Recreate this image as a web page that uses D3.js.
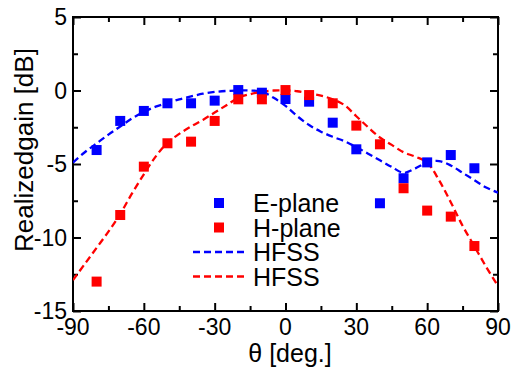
<!DOCTYPE html>
<html>
<head>
<meta charset="utf-8">
<script src="https://cdn.jsdelivr.net/npm/d3@7"></script>
<style>
  body { margin: 0; background: #fff; }
  text { font-family: "Liberation Sans", Arial, sans-serif; fill: #000; }
</style>
</head>
<body>
<svg id="Target" width="517" height="372"></svg>
<script>
// measured points, every 10 deg
const measAngles = [-80, -70, -60, -50, -40, -30, -20, -10, 0, 10, 20, 30, 40, 50, 60, 70, 80];
const ePlane = [-4.05, -2.07, -1.39, -0.87, -0.87, -0.69, 0.03, -0.15, -0.58, -0.76, -2.19, -4.0, -7.67, -5.97, -4.89, -4.39, -5.29];
const hPlane = [-13.0, -8.47, -5.18, -3.59, -3.48, -2.07, -0.6, -0.6, 0.03, -0.31, -0.87, -2.39, -3.66, -6.65, -8.17, -8.58, -10.58];

// simulated curves, every 5 deg
const simAngles = [-90, -85, -80, -75, -70, -65, -60, -55, -50, -45, -40, -35, -30, -25, -20, -15, -10, -5, 0,
                   5, 10, 15, 20, 25, 30, 35, 40, 45, 50, 55, 60, 65, 70, 75, 80, 85, 90];
const hfssE = [-4.9, -4.2, -3.6, -3.0, -2.45, -1.9, -1.45, -1.1, -0.85, -0.6, -0.4, -0.22, -0.1, -0.03, 0.0, 0.0, -0.08, -0.5, -1.05,
               -1.75, -2.35, -2.8, -3.15, -3.45, -3.85, -4.3, -4.75, -5.2, -5.6, -5.3, -4.9, -4.8, -5.1, -5.6, -6.1, -6.6, -6.95];
const hfssH = [-12.9, -11.8, -10.7, -9.6, -8.4, -7.0, -5.7, -4.5, -3.55, -2.95, -2.45, -2.0, -1.5, -1.0, -0.5, -0.25, -0.1, 0.0, 0.0,
               -0.05, -0.2, -0.35, -0.6, -1.0, -1.75, -2.5, -3.2, -3.7, -4.2, -4.5, -4.9, -6.1, -7.6, -9.2, -10.6, -12.0, -13.3];

const xMajor = [-90, -60, -30, 0, 30, 60, 90];
const xMinor = [-75, -45, -15, 15, 45, 75];
const yMajor = [5, 0, -5, -10, -15];
const yMinor = [2.5, -2.5, -7.5, -12.5];

const legendItems = [
    { label: "E-plane", color: "blue", kind: "square" },
    { label: "H-plane", color: "red", kind: "square" },
    { label: "HFSS", color: "blue", kind: "line" },
    { label: "HFSS", color: "red", kind: "line" }
];

const svg = d3.select("#Target");
const margin = { left: 73, right: 19, top: 17, bottom: 61 };
const W = 517 - margin.left - margin.right;
const H = 372 - margin.top - margin.bottom;

const x = d3.scaleLinear().domain([-90, 90]).range([0, W]);
const y = d3.scaleLinear().domain([-15, 5]).range([H, 0]);

const g = svg.append("g").attr("transform", `translate(${margin.left},${margin.top})`);

g.append("clipPath").attr("id", "clip")
    .append("rect").attr("width", W).attr("height", H);

// ticks (inward)
function ticks(axis, values, size, transform) {
    const a = g.append("g")
        .attr("transform", transform)
        .call(axis.tickValues(values).tickSize(size).tickFormat(""));
    a.select(".domain").remove();
    a.selectAll("line").attr("stroke", "#000").attr("stroke-width", 2);
    return a;
}
ticks(d3.axisBottom(x), xMajor, -8, `translate(0,${H})`);
ticks(d3.axisBottom(x), xMinor, -5, `translate(0,${H})`);
ticks(d3.axisTop(x), xMajor, -8, "translate(0,0)");
ticks(d3.axisTop(x), xMinor, -5, "translate(0,0)");
ticks(d3.axisLeft(y), yMajor, -8, "translate(0,0)");
ticks(d3.axisLeft(y), yMinor, -5, "translate(0,0)");
ticks(d3.axisRight(y), yMajor, -8, `translate(${W},0)`);
ticks(d3.axisRight(y), yMinor, -5, `translate(${W},0)`);

// tick labels
g.selectAll("text.xl").data(xMajor).enter().append("text")
    .attr("x", d => x(d)).attr("y", H + 24)
    .attr("text-anchor", "middle").style("font-size", "23px")
    .text(d => d < 0 ? "-" + Math.abs(d) : d);
g.selectAll("text.yl").data(yMajor).enter().append("text")
    .attr("x", -6).attr("y", d => y(d) + 8)
    .attr("text-anchor", "end").style("font-size", "23px")
    .text(d => d < 0 ? "-" + Math.abs(d) : d);

// frame
g.append("rect").attr("width", W).attr("height", H)
    .attr("fill", "none").attr("stroke", "#000").attr("stroke-width", 2);

// curves
const line = d3.line()
    .x(d => x(d[0]))
    .y(d => y(d[1]))
    .curve(d3.curveCatmullRom);

[[hfssE, "blue"], [hfssH, "red"]].forEach(([vals, col]) => {
    g.append("path")
        .datum(simAngles.map((a, i) => [a, vals[i]]))
        .attr("clip-path", "url(#clip)")
        .attr("d", line)
        .attr("fill", "none")
        .attr("stroke", col)
        .attr("stroke-width", 2.3)
        .attr("stroke-dasharray", "7,4");
});

// measured squares
const sq = 10;
[[ePlane, "blue"], [hPlane, "red"]].forEach(([vals, col]) => {
    g.selectAll(null)
        .data(measAngles.map((a, i) => [a, vals[i]]))
        .enter()
        .append("rect")
        .attr("x", d => x(d[0]) - sq / 2)
        .attr("y", d => y(d[1]) - sq / 2)
        .attr("width", sq)
        .attr("height", sq)
        .attr("fill", col);
});

// legend
const leg = g.append("g").attr("transform", "translate(120,186)");
legendItems.forEach((d, i) => {
    const row = leg.append("g").attr("transform", `translate(0,${i * 24.5})`);
    if (d.kind === "square") {
        row.append("rect").attr("x", 26 - sq / 2).attr("y", -sq / 2)
            .attr("width", sq).attr("height", sq).attr("fill", d.color);
    } else {
        row.append("line").attr("x1", 0).attr("x2", 54)
            .attr("stroke", d.color).attr("stroke-width", 2.3)
            .attr("stroke-dasharray", "7,4");
    }
    row.append("text").attr("x", 60).attr("y", 9)
        .style("font-size", "25px")
        .text(d.label);
});

// axis titles
svg.append("text")
    .attr("x", 290).attr("y", 362)
    .attr("text-anchor", "middle").style("font-size", "25px")
    .text("θ [deg.]");
svg.append("text")
    .attr("transform", "translate(33,150) rotate(-90)")
    .attr("text-anchor", "middle").style("font-size", "26px")
    .text("Realizedgain [dB]");
</script>
</body>
</html>
